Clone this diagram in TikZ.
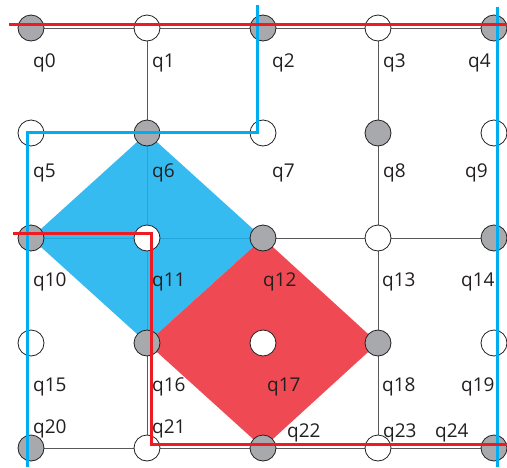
\documentclass[tikz,border=0pt]{standalone}
\usepackage{fontspec}
\setmainfont{Open Sans}
\usetikzlibrary{backgrounds}

\definecolor{qgray}{HTML}{A7A9AC}
\definecolor{qink}{HTML}{231F20}
\definecolor{gridline}{HTML}{58595B}
\definecolor{bluefill}{HTML}{1AB2EE}
\definecolor{redfill}{HTML}{EF4A53}
\definecolor{blueline}{HTML}{00AEEF}
\definecolor{redline}{HTML}{ED1C24}

\begin{document}
\begin{tikzpicture}[x=1pt, y=-1pt,
		dot/.style={circle, draw=qink, line width=0.8pt, fill=white, minimum size=26pt, inner sep=0pt},
		grey/.style={dot, fill=qgray},
		lbl/.style={anchor=base west, inner sep=0pt, text=qink, font=\fontsize{19}{21}\selectfont},
		grid/.style={draw=gridline, line width=1pt},
		cut/.style={line width=3pt}]
				
				\useasboundingbox (0,0) rectangle (507,467);
				
				% draw the qubits, even ones grey
				\foreach \r/\y in {0/28,1/133,2/238,3/343,4/448}
				\foreach \c/\x in {0/31,1/147,2/263,3/378,4/494} {
					\pgfmathtruncatemacro\n{5*\r+\c}
					\ifodd\n
						\node[dot] (q\n) at (\x,\y) {};
					\else
						\node[grey] (q\n) at (\x,\y) {};
					\fi
				}
				
				% draw the names
				\foreach \n/\x/\y in {0/33/67, 1/152/67, 2/272/67, 3/383/67, 4/468/67,
						5/33/177, 6/152/177, 7/272/177, 8/383/177, 9/465/177,
						10/33/286, 11/152/286, 12/263/286, 13/382/286, 14/461/286,
						15/33/391, 16/152/391, 17/267/391, 18/382/391, 19/461/391,
						20/33/433, 21/152/433, 22/287/437, 23/383/437, 24/435/437}
				\node[lbl] (n\n) at (\x,\y) {q\n};
				
				\begin{scope}[on background layer]
					% draw grid lines
					\draw[grid] (q0) -- (q1) -- (q2) -- (q3) -- (q4);
					\draw[grid] (q10) -- (q11) -- (q12) -- (q13) -- (q14);
					\draw[grid] (q20) -- (q21) -- (q22) -- (q23) -- (q24);
					\draw[grid] (q1) -- (q6) -- (q11) -- (q16) -- (q21);
					\draw[grid] (q3) -- (q8) -- (q13) -- (q18) -- (q23);
					
					% draw the two plaquettes
					\fill[bluefill, opacity=0.88] (q6.center) -- (q12.center) -- (q16.center) -- (q10.center) -- cycle;
					\fill[redfill] (q12.center) -- (q18.center) -- (q22.center) -- (q16.center) -- cycle;
				\end{scope}
				
				% draw the blue boundaries
				\coordinate (b0) at (257,5);
				\coordinate (b1) at (257,132);
				\coordinate (b2) at (27,132);
				\coordinate (b3) at (27,467);
				\coordinate (b4) at (497,7);
				\coordinate (b5) at (497,467);
				\draw[cut, blueline] (b0) -- (b1) -- (b2) -- (b3);
				\draw[cut, blueline] (b4) -- (b5);
				
				% draw the red boundaries
				\coordinate (r0) at (9,24);
				\coordinate (r1) at (507,24);
				\coordinate (r2) at (13,233);
				\coordinate (r3) at (151,233);
				\coordinate (r4) at (151,444);
				\coordinate (r5) at (507,444);
				\draw[cut, redline] (r0) -- (r1);
				\draw[cut, redline] (r2) -- (r3) -- (r4) -- (r5);
			\end{tikzpicture}
\end{document}
